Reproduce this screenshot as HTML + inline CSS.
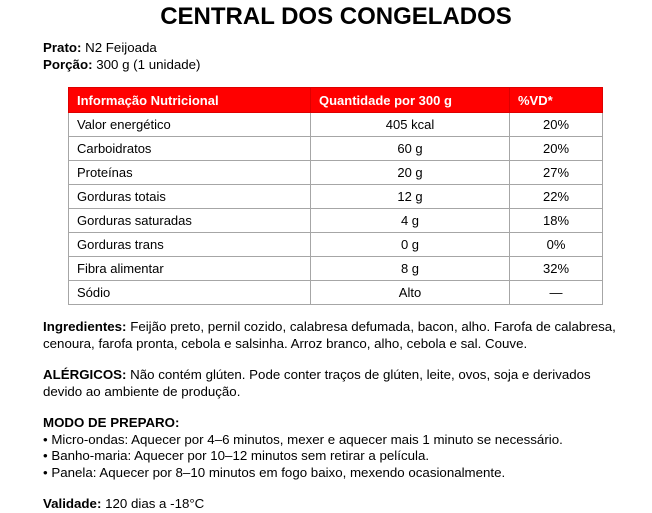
<!DOCTYPE html>
<html><head><meta charset="utf-8"><style>
body{margin:0;width:652px;height:512px;background:#fff;font-family:"Liberation Sans",sans-serif;color:#000;position:relative;overflow:hidden}
.t{position:absolute;left:43px;font-size:13.3px;line-height:16.5px;white-space:nowrap}
h1{position:absolute;top:3px;left:0;width:672px;text-align:center;margin:0;font-size:24px;font-weight:bold}
table{position:absolute;left:68px;top:87px;border-collapse:collapse;font-size:13px}
td{border:1px solid #a6a6a6;height:24px;padding:0 8px;box-sizing:border-box}
tr.h td{background:#f00;color:#fff;font-weight:bold;border-color:#d00;height:25px}
td.c{text-align:center}
</style></head><body>
<h1>CENTRAL DOS CONGELADOS</h1>
<div class="t" style="top:40px"><b>Prato:</b> N2 Feijoada</div>
<div class="t" style="top:57px"><b>Porção:</b> 300 g (1 unidade)</div>
<table>
<colgroup><col style="width:242px"><col style="width:199px"><col style="width:93px"></colgroup>
<tr class="h"><td>Informação Nutricional</td><td>Quantidade por 300 g</td><td>%VD*</td></tr>
<tr><td>Valor energético</td><td class="c">405 kcal</td><td class="c">20%</td></tr>
<tr><td>Carboidratos</td><td class="c">60 g</td><td class="c">20%</td></tr>
<tr><td>Proteínas</td><td class="c">20 g</td><td class="c">27%</td></tr>
<tr><td>Gorduras totais</td><td class="c">12 g</td><td class="c">22%</td></tr>
<tr><td>Gorduras saturadas</td><td class="c">4 g</td><td class="c">18%</td></tr>
<tr><td>Gorduras trans</td><td class="c">0 g</td><td class="c">0%</td></tr>
<tr><td>Fibra alimentar</td><td class="c">8 g</td><td class="c">32%</td></tr>
<tr><td>Sódio</td><td class="c">Alto</td><td class="c">—</td></tr>
</table>
<div class="t" style="top:319px"><b>Ingredientes:</b> Feijão preto, pernil cozido, calabresa defumada, bacon, alho. Farofa de calabresa,<br>cenoura, farofa pronta, cebola e salsinha. Arroz branco, alho, cebola e sal. Couve.</div>
<div class="t" style="top:367px"><b>ALÉRGICOS:</b> Não contém glúten. Pode conter traços de glúten, leite, ovos, soja e derivados<br>devido ao ambiente de produção.</div>
<div class="t" style="top:415px"><b>MODO DE PREPARO:</b><br>• Micro-ondas: Aquecer por 4–6 minutos, mexer e aquecer mais 1 minuto se necessário.<br>• Banho-maria: Aquecer por 10–12 minutos sem retirar a película.<br>• Panela: Aquecer por 8–10 minutos em fogo baixo, mexendo ocasionalmente.</div>
<div class="t" style="top:496px"><b>Validade:</b> 120 dias a -18°C</div>
</body></html>
